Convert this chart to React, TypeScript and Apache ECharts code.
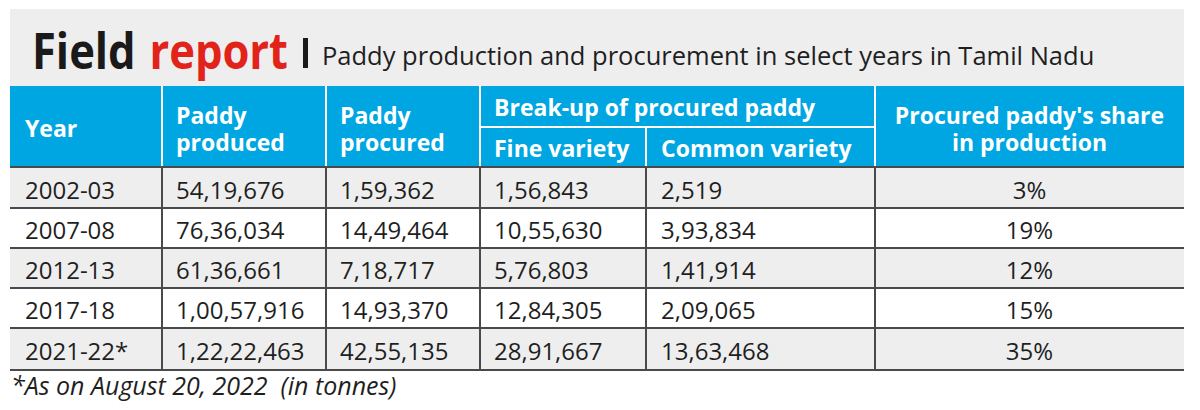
import React, { useEffect, useRef } from "react";
import * as echarts from "echarts";

const titleMain = "Field";
const titleRed = "report";
const subtitle = "Paddy production and procurement in select years in Tamil Nadu";
const footnote = "*As on August 20, 2022  (in tonnes)";

const years = ["2002-03", "2007-08", "2012-13", "2017-18", "2021-22*"];
const produced = [5419676, 7636034, 6136661, 10057916, 12222463];
const procured = [159362, 1449464, 718717, 1493370, 4255135];
const fineVariety = [156843, 1055630, 576803, 1284305, 2891667];
const commonVariety = [2519, 393834, 141914, 209065, 1363468];
const sharePct = [3, 19, 12, 15, 35];

const headYear = ["Year"];
const headProduced = ["Paddy", "produced"];
const headProcured = ["Paddy", "procured"];
const headBreakup = "Break-up of procured paddy";
const headFine = "Fine variety";
const headCommon = "Common variety";
const headShare = ["Procured paddy's share", "in production"];

function fmtIN(n: number): string {
  const s = String(n);
  if (s.length <= 3) return s;
  const last3 = s.slice(-3);
  let rest = s.slice(0, -3);
  const parts: string[] = [];
  while (rest.length > 2) {
    parts.unshift(rest.slice(-2));
    rest = rest.slice(0, -2);
  }
  if (rest) parts.unshift(rest);
  return parts.join(",") + "," + last3;
}

const FONT = '"Open Sans", "Noto Sans", sans-serif';
const BLUE = "#00a6e2";
const GRAY = "#eeeeee";
const LINE = "#4a4a4a";
const TEXT = "#1f1f1f";

function txt(x: number, y: number, text: string, font: string, fill: string, align = "left", extra: any = {}) {
  return {
    type: "text",
    x,
    y,
    silent: true,
    style: {
      text,
      font,
      fill,
      align,
      textAlign: align,
      verticalAlign: "middle",
      textVerticalAlign: "middle",
      ...extra,
    },
  };
}

export default function App() {
  const ref = useRef<HTMLDivElement>(null);
  useEffect(() => {
    document.body.style.margin = "0";
    if (!ref.current) return;
    const chart = echarts.init(ref.current, undefined, { renderer: "svg" });

    const L = 10;
    const R = 1184;
    const colX = [L, 162, 326, 480, 646, 875, R];
    const hTop = 86;
    const hMid = 127;
    const hBot = 167;
    const rowEdges = [167, 208, 248, 288, 328, 370];

    const els: any[] = [];
    // title background
    els.push({ type: "rect", shape: { x: L, y: 9, width: R - L, height: hTop - 9 }, style: { fill: GRAY }, silent: true });
    // header background
    els.push({ type: "rect", shape: { x: L, y: hTop, width: R - L, height: hBot - hTop }, style: { fill: BLUE }, silent: true });
    // row backgrounds
    for (let i = 0; i < years.length; i++) {
      els.push({
        type: "rect",
        shape: { x: L, y: rowEdges[i], width: R - L, height: rowEdges[i + 1] - rowEdges[i] },
        style: { fill: i % 2 === 0 ? GRAY : "#ffffff" },
        silent: true,
      });
    }
    // header white separators
    [colX[1], colX[2], colX[3], colX[5]].forEach((x) => {
      els.push({ type: "line", shape: { x1: x, y1: hTop, x2: x, y2: hBot }, style: { stroke: "#ffffff", lineWidth: 2 }, silent: true });
    });
    els.push({ type: "line", shape: { x1: colX[4], y1: hMid, x2: colX[4], y2: hBot }, style: { stroke: "#ffffff", lineWidth: 2 }, silent: true });
    els.push({ type: "line", shape: { x1: colX[3], y1: hMid, x2: colX[5], y2: hMid }, style: { stroke: "#ffffff", lineWidth: 2 }, silent: true });

    // body lines
    rowEdges.forEach((y) => {
      els.push({ type: "line", shape: { x1: L, y1: y, x2: R, y2: y }, style: { stroke: LINE, lineWidth: 2 }, silent: true });
    });
    colX.slice(1, 6).forEach((x) => {
      els.push({ type: "line", shape: { x1: x, y1: hBot, x2: x, y2: rowEdges[rowEdges.length - 1] }, style: { stroke: LINE, lineWidth: 2 }, silent: true });
    });

    // title
    const tFont = `bold 50px ${FONT}`;
    els.push({
      type: "group",
      x: 32,
      y: 50,
      scaleX: 0.87,
      children: [
        txt(0, 0, titleMain, tFont, "#1a1a1a", "left"),
        txt(135, 0, titleRed, tFont, "#e2231a", "left"),
      ],
    });
    els.push({ type: "rect", shape: { x: 303, y: 38, width: 5, height: 30 }, style: { fill: "#1a1a1a" }, silent: true });
    els.push(txt(322, 55, subtitle, `25.5px ${FONT}`, TEXT, "left"));

    // header texts
    const hFont = `bold 23px ${FONT}`;
    const W = "#ffffff";
    const two = (x: number, lines: string[], align = "left") => {
      if (lines.length === 1) {
        els.push(txt(x, 128, lines[0], hFont, W, align));
      } else {
        els.push(txt(x, 115, lines[0], hFont, W, align, { lineHeight: 26 }));
        els.push(txt(x, 142, lines[1], hFont, W, align, { lineHeight: 26 }));
      }
    };
    two(colX[0] + 15, headYear);
    two(colX[1] + 14, headProduced);
    two(colX[2] + 14, headProcured);
    els.push(txt(colX[3] + 14, 107, headBreakup, hFont, W));
    els.push(txt(colX[3] + 14, 148, headFine, hFont, W));
    els.push(txt(colX[4] + 15, 148, headCommon, hFont, W));
    two((colX[5] + colX[6]) / 2, headShare, "center");

    // body texts
    const bFont = `24px ${FONT}`;
    for (let i = 0; i < years.length; i++) {
      const cy = (rowEdges[i] + rowEdges[i + 1]) / 2 + 1.5;
      els.push(txt(colX[0] + 15, cy, years[i], bFont, TEXT));
      els.push(txt(colX[1] + 14, cy, fmtIN(produced[i]), bFont, TEXT));
      els.push(txt(colX[2] + 14, cy, fmtIN(procured[i]), bFont, TEXT));
      els.push(txt(colX[3] + 14, cy, fmtIN(fineVariety[i]), bFont, TEXT));
      els.push(txt(colX[4] + 15, cy, fmtIN(commonVariety[i]), bFont, TEXT));
      els.push(txt((colX[5] + colX[6]) / 2, cy, sharePct[i] + "%", bFont, TEXT, "center"));
    }

    // footnote
    els.push(txt(11, 385, footnote, `italic 25px ${FONT}`, TEXT));

    chart.setOption({ animation: false, graphic: { elements: els } });
    return () => chart.dispose();
  }, []);
  return <div ref={ref} style={{ width: 1200, height: 410 }} />;
}
